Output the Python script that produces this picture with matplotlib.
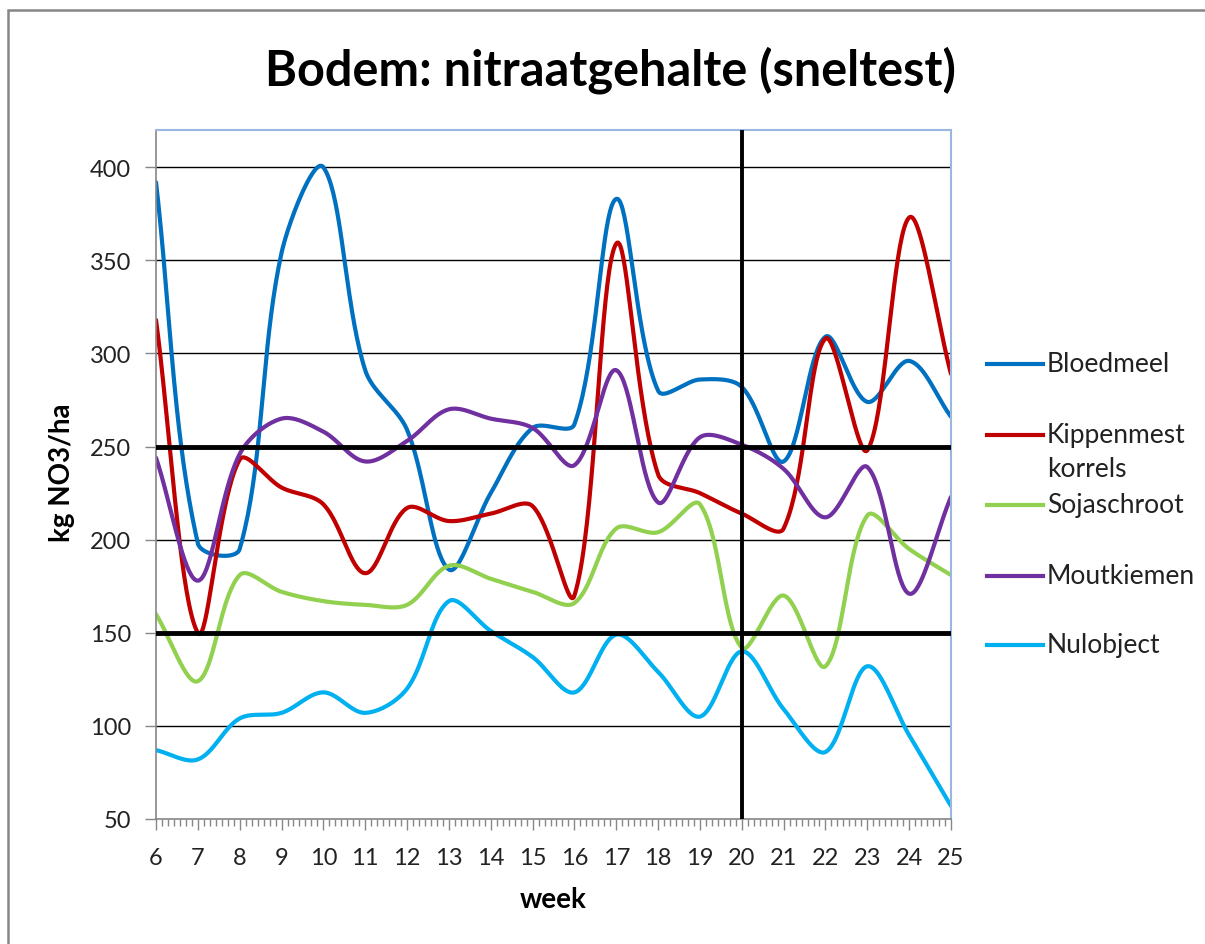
import numpy as np
import matplotlib
matplotlib.use("Agg")
import matplotlib.pyplot as plt
from matplotlib.lines import Line2D
from matplotlib.patches import Rectangle
from matplotlib.ticker import MultipleLocator

plt.rcParams['font.family'] = ['Lato', 'DejaVu Sans']

# weekly soil nitrate (kg NO3/ha)
weeks = list(range(6, 26))
bloedmeel = [392, 198, 195, 354, 400, 291, 259, 184, 225, 260,
             262, 383, 280, 286, 282, 242, 309, 274, 296, 266]
kippenmest = [318, 150, 243, 228, 219, 182, 217, 210, 214, 218,
              170, 359, 235, 225, 214, 206, 308, 248, 373, 289]
sojaschroot = [160, 124, 181, 172, 167, 165, 165, 186, 179, 172,
               166, 206, 204, 219, 142, 170, 132, 213, 195, 181]
moutkiemen = [244, 178, 246, 265, 258, 242, 253, 270, 265, 260,
              240, 291, 220, 255, 251, 238, 212, 239, 171, 223]
nulobject = [87, 82, 104, 107, 118, 107, 120, 167, 151, 137,
             118, 149, 129, 105, 140, 109, 86, 132, 95, 57]

labels = ['Bloedmeel', 'Kippenmest\nkorrels', 'Sojaschroot', 'Moutkiemen', 'Nulobject']
colors = ['#0070C0', '#C00000', '#92D050', '#7030A0', '#00B0F0']
series = [bloedmeel, kippenmest, sojaschroot, moutkiemen, nulobject]

XS, YS = 41.79, 1.863  # px per week / px per unit, smoothing is done on screen scale


def smooth(x, y, n=40):
    # excel-like smoothed line: bezier segments, control arms weighted by segment length
    p = np.column_stack([np.asarray(x, float) * XS, np.asarray(y, float) * YS])
    p = np.vstack([p[0], p, p[-1]])
    t = np.linspace(0, 1, n)[:, None]
    d = np.hypot(*np.diff(p, axis=0).T)
    out = []
    for i in range(1, len(p) - 2):
        p0, p3 = p[i], p[i + 1]
        a = d[i] / max(d[i - 1] + d[i], 1e-9)
        b = d[i] / max(d[i] + d[i + 1], 1e-9)
        c1 = p0 + (p3 - p[i - 1]) * a / 3
        c2 = p3 - (p[i + 2] - p0) * b / 3
        out.append((1 - t) ** 3 * p0 + 3 * (1 - t) ** 2 * t * c1 + 3 * (1 - t) * t ** 2 * c2 + t ** 3 * p3)
    out = np.vstack(out)
    return out[:, 0] / XS, out[:, 1] / YS


fig = plt.figure(figsize=(12.05, 9.45), dpi=100)
ax = fig.add_axes([156 / 1205, 1 - 820 / 945, (951 - 156) / 1205, (820 - 131) / 945])

for y in [100, 200, 300, 350, 400]:
    ax.axhline(y, color='black', lw=1.0, zorder=1)

for s, c in zip(series, colors):
    sx, sy = smooth(weeks, s)
    ax.plot(sx, sy, color=c, lw=3.0, solid_capstyle='round', zorder=2)

ax.axhline(150, color='black', lw=3.5, zorder=3)
ax.axhline(250, color='black', lw=3.5, zorder=3)
ax.axvline(20, color='black', lw=2.8, zorder=3)

ax.set_xlim(6, 25)
ax.set_ylim(50, 420)
ax.set_xticks(weeks)
ax.xaxis.set_minor_locator(MultipleLocator(1 / 7))
ax.set_yticks(range(50, 401, 50))

ax.tick_params(axis='y', direction='out', length=8, width=1, color='#868686',
               labelsize=17, pad=10, labelcolor='#222222')
ax.tick_params(axis='x', which='major', direction='out', length=8, width=1,
               color='#868686', labelsize=17, pad=12, labelcolor='#222222')
ax.tick_params(axis='x', which='minor', direction='out', length=5, width=1, color='#868686')

for side in ['left', 'bottom']:
    ax.spines[side].set_color('#868686')
    ax.spines[side].set_linewidth(1.2)
for side in ['top', 'right']:
    ax.spines[side].set_color('#9BB7E0')
    ax.spines[side].set_linewidth(1.5)

fig.text(610 / 1205, 1 - 70 / 945, 'Bodem: nitraatgehalte (sneltest)', fontsize=35,
         fontweight='bold', ha='center', va='center')
fig.text(62 / 1205, 1 - 473 / 945, 'kg NO3/ha', fontsize=20, fontweight='bold',
         rotation=90, ha='center', va='center')
fig.text(553 / 1205, 1 - 900 / 945, 'week', fontsize=20, fontweight='bold',
         ha='center', va='center')

# legend, one slot of ~70px per entry
leg_y = [365, 436, 506, 577, 646]
for lab, c, yy in zip(labels, colors, leg_y):
    yf = 1 - yy / 945
    fig.add_artist(Line2D([987 / 1205, 1043 / 1205], [yf, yf], color=c, lw=3.0,
                          transform=fig.transFigure))
    for k, part in enumerate(lab.split('\n')):
        fig.text(1047 / 1205, 1 - (yy + 34 * k) / 945, part, fontsize=19, ha='left',
                 va='center', color='#222222')

# chart area border
fig.add_artist(Rectangle((8 / 1205, -0.05), 1.2, 1 - 11 / 945 + 0.05, fill=False,
                         edgecolor='#868686', lw=1.8, transform=fig.transFigure))

fig.savefig('out.png', dpi=100)
